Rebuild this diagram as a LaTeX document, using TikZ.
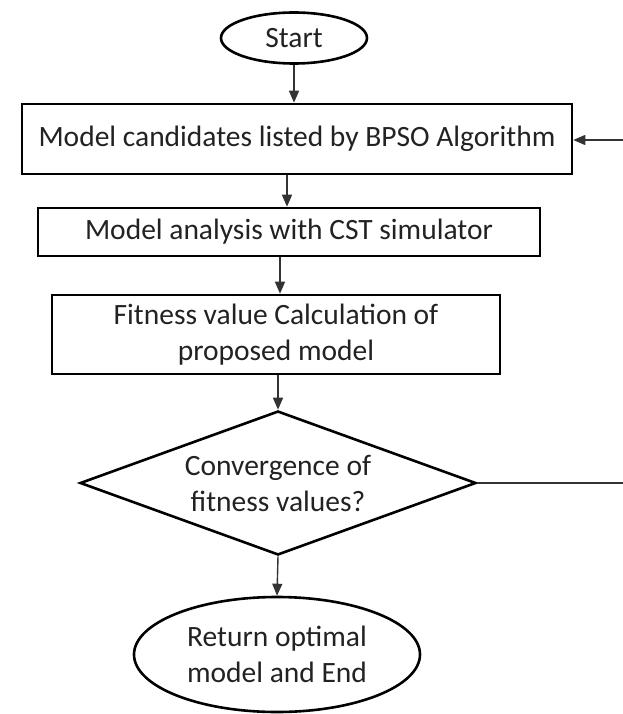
\documentclass[tikz,border=0pt]{standalone}
\usepackage{fontspec}
\setmainfont{Carlito}
\usetikzlibrary{arrows.meta,shapes.geometric}
\definecolor{txt}{HTML}{222222}
\definecolor{ln}{HTML}{333333}
\tikzset{
  txtfont/.style={font=\fontsize{29.5}{36}\selectfont},
  base/.style={draw=black, line width=2.6pt, text=txt, align=center, inner sep=0pt, txtfont},
  boxnode/.style={base, rectangle},
  ovalnode/.style={base, ellipse},
  decnode/.style={base, diamond},
  conn/.style={draw=ln, line width=1.4pt},
  arr/.style={conn, -{Triangle[length=12pt,width=10pt]}}
}
\begin{document}
\begin{tikzpicture}[x=1pt,y=-1pt]
\useasboundingbox (0,0) rectangle (623,714);
\node[ovalnode, minimum width=146pt, minimum height=51pt] (start) at (294,38) {Start};
\node[boxnode, minimum width=550pt, minimum height=70pt] (b1) at (297,139) {Model candidates listed by BPSO Algorithm};
\node[boxnode, minimum width=502pt, minimum height=48pt] (b2) at (289,232) {Model analysis with CST simulator};
\node[boxnode, minimum width=448pt, minimum height=79pt] (b3) at (276,334.5) {Fitness value Calculation of\\proposed model};
\node[decnode, minimum width=396pt, minimum height=144pt] (d) at (278,483) {};
\node[text=txt, align=center, txtfont] (dt) at (278,483) {Convergence of\\fitness values?};
\node[ovalnode, minimum width=286pt, minimum height=115pt] (e) at (277,654.5) {Return optimal\\model and End};
\coordinate (c1) at (287,0);
\coordinate (c2) at (280,0);
\coordinate (c3) at (278,0);
\coordinate (rt) at (623,140);
\coordinate (rd) at (623,483);
\draw[arr] (start.south) -- (start.south |- b1.north);
\draw[arr] (b1.south -| c1) -- (b2.north -| c1);
\draw[arr] (b2.south -| c2) -- (b3.north -| c2);
\draw[arr] (b3.south -| c3) -- (d.north);
\draw[arr] (d.south) -- (e.north);
\draw[conn] (d.east) -- (rd);
\draw[arr] (rt) -- (b1.east |- rt);
\end{tikzpicture}
\end{document}
